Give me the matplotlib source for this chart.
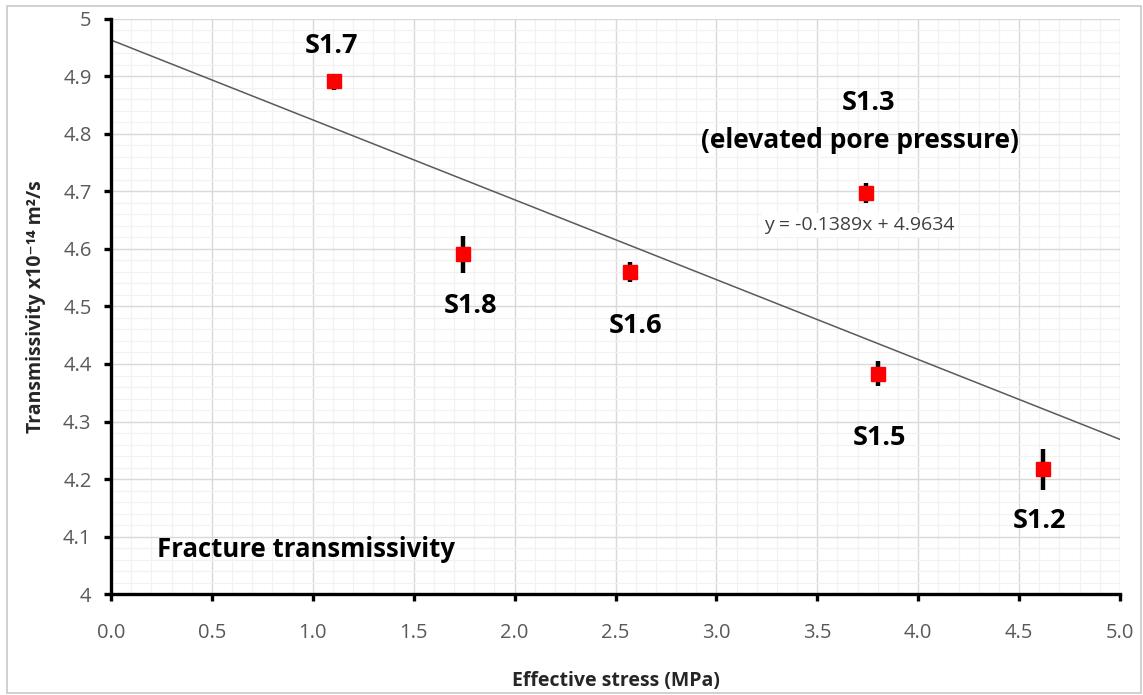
import numpy as np
import matplotlib.pyplot as plt
from matplotlib.patches import Rectangle
from matplotlib.ticker import MultipleLocator, FixedLocator

plt.rcParams['font.family'] = ['Open Sans', 'DejaVu Sans']

# samples: effective stress (MPa) vs transmissivity (x1e-14 m2/s)
samples = ['S1.7', 'S1.8', 'S1.6', 'S1.3', 'S1.5', 'S1.2']
stress = [1.105, 1.745, 2.57, 3.74, 3.80, 4.62]
trans = [4.892, 4.591, 4.560, 4.697, 4.383, 4.217]
err_lo = [0.015, 0.032, 0.018, 0.017, 0.022, 0.036]
err_hi = [0.008, 0.032, 0.018, 0.017, 0.022, 0.036]

# linear fit reported on the chart
slope = -0.1389
intercept = 4.9634

# axis ticks
x_ticks = [0.0, 0.5, 1.0, 1.5, 2.0, 2.5, 3.0, 3.5, 4.0, 4.5, 5.0]
y_ticks = [4.0, 4.1, 4.2, 4.3, 4.4, 4.5, 4.6, 4.7, 4.8, 4.9, 5.0]
y_tick_labels = ['4', '4.1', '4.2', '4.3', '4.4', '4.5', '4.6', '4.7', '4.8', '4.9', '5']

# label placement (data coords) for each sample
label_xy = {
    'S1.7': (1.095, 4.953),
    'S1.8': (1.78, 4.501),
    'S1.6': (2.60, 4.466),
    'S1.3': (3.756, 4.854),
    'S1.5': (3.81, 4.271),
    'S1.2': (4.60, 4.127),
}

fig = plt.figure(figsize=(11.43, 6.95), dpi=100)
ax = fig.add_axes([0.0971, 0.1453, 0.8828, 0.8274])

# outer chart border
fig.patches.append(Rectangle((7 / 1143, 2 / 695), 1134 / 1143, 687 / 695,
                             transform=fig.transFigure, fill=False,
                             edgecolor='#c8c8c8', linewidth=1.2))

ax.set_xlim(0, 5)
ax.set_ylim(4, 5)
ax.xaxis.set_major_locator(FixedLocator(x_ticks))
ax.xaxis.set_minor_locator(MultipleLocator(0.1))
ax.yaxis.set_major_locator(FixedLocator(y_ticks))
ax.yaxis.set_minor_locator(MultipleLocator(0.02))
ax.set_xticklabels([f'{v:.1f}' for v in x_ticks])
ax.set_yticklabels(y_tick_labels)
ax.grid(which='major', color='#d9d9d9', linewidth=1.0)
ax.grid(which='minor', color='#f2f2f2', linewidth=0.9)
ax.set_axisbelow(True)

for s in ['top', 'right']:
    ax.spines[s].set_visible(False)
for s in ['left', 'bottom']:
    ax.spines[s].set_linewidth(2.4)
    ax.spines[s].set_color('black')
ax.tick_params(which='major', direction='out', length=5, width=2.4,
               color='black', labelsize=14.5, labelcolor='#595959')
ax.tick_params(axis='x', pad=16)
ax.tick_params(axis='y', pad=9)
ax.tick_params(which='minor', length=0)

# trend line
xs = np.array([0, 5])
ax.plot(xs, slope * xs + intercept, color='#5a5a5a', linewidth=1.1, zorder=2)

# error bars and points
ax.errorbar(stress, trans, yerr=[err_lo, err_hi], fmt='none', ecolor='black',
            elinewidth=3.2, capsize=0, zorder=3)
ax.plot(stress, trans, 's', color='#ff0000', markersize=9.5, zorder=4)

for name in samples:
    x, y = label_xy[name]
    ax.text(x, y, name, ha='center', va='center', fontsize=19.5,
            fontweight='bold', color='black')

ax.text(3.71, 4.788, '(elevated pore pressure)', ha='center', va='center',
        fontsize=19, fontweight='bold', color='black')
ax.text(3.71, 4.642, f'y = {slope}x + {intercept}', ha='center', va='center',
        fontsize=14, color='#404040',
        bbox=dict(facecolor='white', edgecolor='none', pad=2))
ax.text(0.228, 4.078, 'Fracture transmissivity', ha='left', va='center',
        fontsize=18.5, fontweight='bold', color='black')

ax.set_xlabel('Effective stress (MPa)', fontsize=14, fontweight='bold',
              color='#262626', labelpad=20)
ax.set_ylabel('Transmissivity x10⁻¹⁴ m²/s', fontsize=14, fontweight='bold',
              color='#262626', labelpad=12)

fig.savefig('out.png', dpi=100)
